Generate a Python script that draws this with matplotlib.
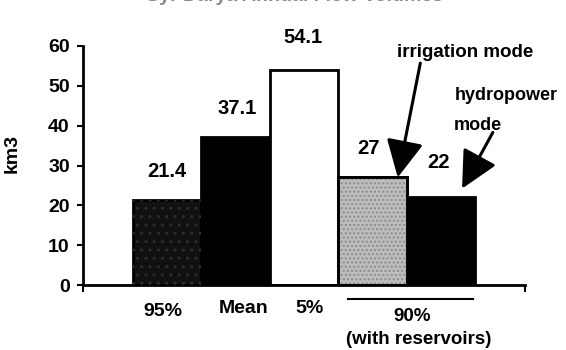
import matplotlib
matplotlib.use("Agg")
import matplotlib.pyplot as plt
import matplotlib.transforms as mtransforms

plt.rcParams['font.family'] = ['Liberation Sans', 'DejaVu Sans']
plt.rcParams['font.weight'] = 'bold'

# data
values = [21.4, 37.1, 54.1, 27, 22]
value_text = ['21.4', '37.1', '54.1', '27', '22']
cat_labels = ['95%', 'Mean', '5%']
group_label = '90%'
group_sub = '(with reservoirs)'
title = 'Syr Darya Annual Flow Volumes'

facecolors = ['#111111', 'black', 'white', '#bdbdbd', 'black']
xpos = list(range(len(values)))

fig = plt.figure(figsize=(5.66, 3.5), dpi=100)
ax = fig.add_axes([83/566, 1-285/350, 442/566, 239/350])

ax.bar(xpos, values, width=1.0, color=facecolors, edgecolor='black', linewidth=2, zorder=2)
# speckle texture on the first and fourth bars
ax.bar(xpos[0], values[0], width=1.0, color='none', edgecolor='#2e2e2e', hatch='..', linewidth=0, zorder=3)
ax.bar(xpos[3], values[3], width=1.0, color='none', edgecolor='#8c8c8c', hatch='....', linewidth=0, zorder=3)
ax.bar(xpos[3], values[3], width=1.0, color='none', edgecolor='black', linewidth=2, zorder=4)

# value labels above bars
offsets = [(0, 20), (1, 21), (-1, 23), (-3, 21), (-2, 25)]
for x, v, t, off in zip(xpos, values, value_text, offsets):
    ax.annotate(t, xy=(x, v), xytext=off, textcoords='offset points',
                ha='center', va='center', fontsize=14.5, fontweight='bold')

xmin, xmax = -1.23, 5.23
ax.set_xlim(xmin, xmax)
ax.set_ylim(0, 60)
ax.set_yticks(range(0, 61, 10))
ax.set_xticks([xmin, xmax])
ax.set_xticklabels([])
ax.tick_params(axis='y', direction='out', length=4.5, width=1.5, labelsize=14, pad=5)
ax.tick_params(axis='x', direction='out', length=5, width=1.5)
for lab in ax.get_yticklabels():
    lab.set_fontweight('bold')
for s in ['top', 'right']:
    ax.spines[s].set_visible(False)
for s in ['left', 'bottom']:
    ax.spines[s].set_linewidth(2)

ax.set_ylabel('km3', fontsize=14, fontweight='bold')
ax.yaxis.set_label_coords(-0.14, 0.55)

# category labels under the axis
trans = mtransforms.blended_transform_factory(ax.transData, ax.transAxes)
cat_x = [-0.06, 1.12, 2.08]
cat_y = [-0.109, -0.097, -0.097]
for lab, x, y in zip(cat_labels, cat_x, cat_y):
    ax.text(x, y, lab, transform=trans, ha='center', va='center', fontsize=14, fontweight='bold')
ax.plot([2.64, 4.47], [-0.059, -0.059], transform=trans, color='black', lw=1.5, clip_on=False)
ax.text(3.58, -0.13, group_label, transform=trans, ha='center', va='center', fontsize=13.5, fontweight='bold')
ax.text(3.67, -0.227, group_sub, transform=trans, ha='center', va='center', fontsize=13.5, fontweight='bold')

# arrows
aprops = dict(arrowstyle='-|>,head_length=2.3,head_width=1.15', color='black', lw=2.2,
              shrinkA=0, shrinkB=0)
ax.annotate('', xy=(3.37, values[3]), xytext=(3.70, 55.7), arrowprops=aprops)
ax.annotate('', xy=(4.31, 24.2), xytext=(4.76, 38.3), arrowprops=aprops, annotation_clip=False)
ax.text(4.35, 58.3, 'irrigation mode', ha='center', va='center', fontsize=13.5, fontweight='bold')
ax.text(4.95, 47.5, 'hydropower', ha='center', va='center', fontsize=13, fontweight='bold')
ax.text(4.54, 40.0, 'mode', ha='center', va='center', fontsize=13, fontweight='bold')

# title, mostly cut off at the top edge as in the reference
fig.text(295/566, 1 - 1/350, title, ha='center', va='baseline', fontsize=14,
         fontweight='bold', color='#8a8a8a')

fig.savefig('out.png', dpi=100)
